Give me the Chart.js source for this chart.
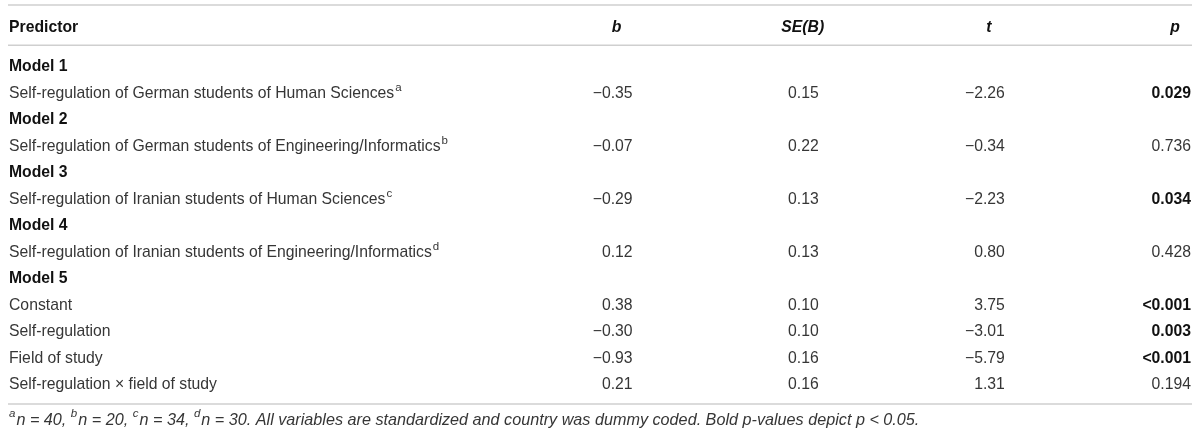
<!DOCTYPE html>
<html>
<head>
<meta charset="utf-8">
<script src="https://cdn.jsdelivr.net/npm/chart.js@4.4.1/dist/chart.umd.min.js"></script>
<style>
  body { margin: 0; background: #fff; }
  #wrap { width: 1200px; height: 441px; }
</style>
</head>
<body>
<div id="wrap"><canvas id="regressionTable"></canvas></div>
<script>
// table content
const columns = ["Predictor", "b", "SE(B)", "t", "p"];
const predictors = [
  "Model 1",
  "Self-regulation of German students of Human Sciences",
  "Model 2",
  "Self-regulation of German students of Engineering/Informatics",
  "Model 3",
  "Self-regulation of Iranian students of Human Sciences",
  "Model 4",
  "Self-regulation of Iranian students of Engineering/Informatics",
  "Model 5",
  "Constant",
  "Self-regulation",
  "Field of study",
  "Self-regulation \u00d7 field of study"
];
const notes = ["", "a", "", "b", "", "c", "", "d", "", "", "", "", ""];
const bValues = [null, -0.35, null, -0.07, null, -0.29, null, 0.12, null, 0.38, -0.30, -0.93, 0.21];
const seValues = [null, 0.15, null, 0.22, null, 0.13, null, 0.13, null, 0.10, 0.10, 0.16, 0.16];
const tValues = [null, -2.26, null, -0.34, null, -2.23, null, 0.80, null, 3.75, -3.01, -5.79, 1.31];
const pValues = [null, "0.029", null, "0.736", null, "0.034", null, "0.428", null, "<0.001", "0.003", "<0.001", "0.194"];
const footnote = [
  ["a", "n = 40, "],
  ["b", "n = 20, "],
  ["c", "n = 34, "],
  ["d", "n = 30. All variables are standardized and country was dummy coded. Bold p-values depict p < 0.05."]
];

const FONT = "'Liberation Sans', Arial, Helvetica, sans-serif";
const HEADER_ROW = -1.5;
const X_MIN = -2.35;

function fmt(v) {
  return v.toFixed(2).replace("-", "\u2212");
}
function significant(p) {
  return parseFloat(p.replace("<", "")) < 0.05;
}

// one dataset per column, each cell is a point placed by the scales
const valueCols = [bValues, seValues, tValues, pValues];
const datasets = [];
datasets.push({
  label: columns[0],
  data: [{ x: X_MIN, y: HEADER_ROW }].concat(predictors.map((p, i) => ({ x: X_MIN, y: i }))),
  cells: [{ text: columns[0], bold: true }].concat(predictors.map((p, i) => ({
    text: p,
    bold: bValues[i] === null,
    note: notes[i]
  }))),
  align: "left"
});
valueCols.forEach((vals, c) => {
  const pts = [{ x: c + 1, y: HEADER_ROW }];
  const cells = [{ text: columns[c + 1], bold: true, italic: true, header: true }];
  vals.forEach((v, i) => {
    if (v === null) return;
    pts.push({ x: c + 1, y: i });
    if (typeof v === "string") cells.push({ text: v, bold: significant(v) });
    else cells.push({ text: fmt(v) });
  });
  datasets.push({ label: columns[c + 1], data: pts, cells: cells, align: "right" });
});

const tablePlugin = {
  id: "tableText",
  afterDatasetsDraw(chart) {
    const ctx = chart.ctx;
    const area = chart.chartArea;
    const ys = chart.scales.y;
    ctx.save();
    ctx.strokeStyle = "#cfcfcf";
    ctx.lineWidth = 1.5;
    [area.top, ys.getPixelForValue(-0.78), area.bottom].forEach(py => {
      ctx.beginPath();
      ctx.moveTo(area.left - 1, py);
      ctx.lineTo(area.right + 1, py);
      ctx.stroke();
    });
    ctx.textBaseline = "middle";
    chart.data.datasets.forEach((ds, c) => {
      const meta = chart.getDatasetMeta(c);
      meta.data.forEach((pt, i) => {
        const cell = ds.cells[i];
        ctx.font = (cell.italic ? "italic " : "") + (cell.bold ? "bold " : "") + "15.75px " + FONT;
        ctx.fillStyle = cell.bold ? "#111" : "#363636";
        let x = pt.x;
        const y = pt.y + 1;
        if (cell.header && c > 0) {
          ctx.textAlign = "center";
          x -= 16;
        } else {
          ctx.textAlign = ds.align;
        }
        ctx.fillText(cell.text, x, y);
        if (cell.note) {
          const w = ctx.measureText(cell.text).width;
          ctx.font = "11.5px " + FONT;
          ctx.textAlign = "left";
          ctx.fillText(cell.note, x + w + 1, y - 6);
        }
      });
    });
    // footnote
    let fx = area.left;
    const fy = area.bottom + 16;
    ctx.fillStyle = "#363636";
    ctx.textAlign = "left";
    footnote.forEach(([sup, txt]) => {
      ctx.font = "italic 11.5px " + FONT;
      ctx.fillText(sup, fx, fy - 6);
      fx += ctx.measureText(sup).width + 1;
      ctx.font = "italic 16.2px " + FONT;
      ctx.fillText(txt, fx, fy);
      fx += ctx.measureText(txt).width;
    });
    ctx.restore();
  }
};

new Chart(document.getElementById("regressionTable").getContext("2d"), {
  type: "scatter",
  data: { datasets: datasets },
  options: {
    responsive: true,
    maintainAspectRatio: false,
    animation: false,
    layout: { padding: { left: 9, right: 9, top: 5, bottom: 37 } },
    elements: { point: { radius: 0, hoverRadius: 0 } },
    plugins: { legend: { display: false }, tooltip: { enabled: false } },
    scales: {
      x: { type: "linear", min: X_MIN, max: 4, display: false },
      y: { type: "linear", min: -2.3, max: 12.75, reverse: true, display: false }
    }
  },
  plugins: [tablePlugin]
});
</script>
</body>
</html>
